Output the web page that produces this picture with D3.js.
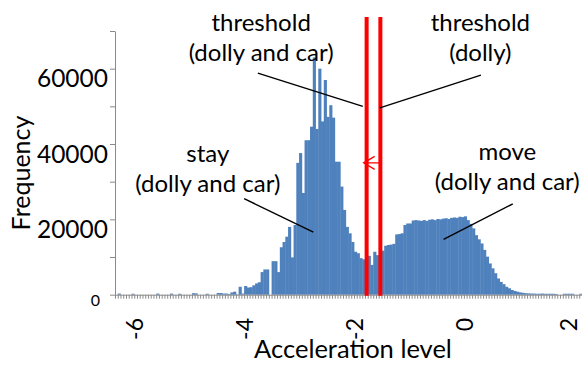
<!DOCTYPE html>
<html>
<head>
<meta charset="utf-8">
<script src="https://cdn.jsdelivr.net/npm/d3@7"></script>
<style>
  html, body { margin: 0; padding: 0; background: #fff; }
  svg { display: block; font-family: Lato, "Open Sans", sans-serif; }
</style>
</head>
<body>
<svg id="chart" width="582" height="365"></svg>
<script>
// Histogram of acceleration levels: bins start at binStart, each binWidth wide
const binStart = -6.35;
const binWidth = 0.05;
const frequencies = [
  0, 300, 0, 0, 0, 0, 250, 0, 0, 0,
  0, 0, 0, 0, 0, 300, 0, 0, 0, 0,
  300, 0, 0, 250, 0, 0, 0, 0, 400, 350,
  0, 0, 0, 250, 0, 0, 0, 450, 450, 300,
  300, 200, 600, 800, 100, 2100, 300, 2300, 1900, 2000,
  2500, 3000, 3300, 6000, 6700, 6700, 0, 8900, 8900, 6000,
  12600, 14000, 15400, 18000, 9900, 18500, 35000, 37600, 27000, 41000,
  41000, 44600, 63000, 44000, 60000, 46000, 57000, 47200, 50300, 47000,
  35300, 35300, 28700, 22500, 18000, 16300, 14000, 11400, 11000, 9700,
  9400, 9400, 10300, 7900, 11400, 10500, 9700, 11700, 13000, 13200,
  13300, 13500, 16000, 16100, 16300, 18500, 18900, 18900, 19700, 19800,
  19700, 19600, 19800, 19600, 19900, 20000, 19800, 20100, 20000, 20200,
  20300, 20100, 20400, 20500, 20400, 20700, 20600, 20800, 19800, 18800,
  17600, 15800, 14700, 13600, 11900, 10100, 8300, 7000, 5700, 4300,
  3400, 2800, 2100, 1700, 1250, 1000, 800, 600, 500, 400,
  350, 300, 300, 250, 250, 300, 250, 250, 250, 250,
  200, 0, 0, 250, 250, 250, 250, 0, 0, 250
];

const xTickValues = [-6, -4, -2, 0, 2];
const yTickValues = [0, 10000, 20000, 30000, 40000, 50000, 60000, 70000];
const yLabelValues = [0, 20000, 40000, 60000];

// Decision thresholds on the acceleration level
const thresholdValues = [-1.77, -1.52];

// Annotation texts, their anchor (acceleration, frequency) and leader line ends
const annotationLines = [
  ["threshold", "(dolly and car)"],
  ["threshold", "(dolly)"],
  ["stay", "(dolly and car)"],
  ["move", "(dolly and car)"]
];
const annotationAnchors = [[-3.69, 69900], [0.30, 69900], [-4.66, 35200], [0.79, 35700]];
const leaderStarts = [[-3.75, 58800], [0.31, 58300], [-4.00, 25500], [0.89, 24100]];
const leaderEnds = [[-1.84, 50000], [-1.53, 49600], [-2.74, 16600], [-0.37, 14700]];
const arrowLevel = 35000;

const svg = d3.select("#chart");
const plotLeft = 115, plotRight = 582, plotTop = 31, plotBottom = 294.7;
const axisColor = "#8a8a8a";

const binEdges = frequencies.map((_, i) => binStart + i * binWidth);
const x = d3.scaleLinear()
  .domain([binStart, binStart + frequencies.length * binWidth])
  .range([plotLeft, plotRight]);
const y = d3.scaleLinear().domain([0, 70000]).range([plotBottom, plotTop]);

// Bars
svg.append("g")
  .selectAll("rect")
  .data(frequencies)
  .join("rect")
  .attr("x", (d, i) => x(binEdges[i]))
  .attr("width", (d, i) => x(binEdges[i] + binWidth) - x(binEdges[i]) + 0.4)
  .attr("y", d => y(d))
  .attr("height", d => y(0) - y(d))
  .attr("fill", "#4f81bd");

// Y axis with outward ticks every 10000
const yAxis = svg.append("g")
  .attr("transform", `translate(${plotLeft},0)`)
  .call(d3.axisLeft(y).tickValues(yTickValues).tickSize(5).tickSizeOuter(0).tickFormat(""));
yAxis.selectAll("path, line").attr("stroke", axisColor);

// X axis with a small tick at every bin edge
const xAxis = svg.append("g")
  .attr("transform", `translate(0,${plotBottom})`)
  .call(d3.axisBottom(x).tickValues(binEdges.concat([binStart + frequencies.length * binWidth]))
    .tickSize(4).tickSizeOuter(0).tickFormat(""));
xAxis.selectAll("path, line").attr("stroke", axisColor);

// Y tick labels
svg.append("g")
  .selectAll("text")
  .data(yLabelValues)
  .join("text")
  .attr("x", d => d === 0 ? 100 : 108)
  .attr("y", d => y(d) + (d === 0 ? 5 : 9))
  .attr("text-anchor", "end")
  .attr("dominant-baseline", "central")
  .attr("font-size", d => d === 0 ? 16 : 24.5)
  .attr("fill", "#000")
  .text(d => d);

// X tick labels, rotated; the last one is kept inside the chart edge
svg.append("g")
  .selectAll("text")
  .data(xTickValues)
  .join("text")
  .attr("transform", d => `translate(${Math.min(x(d), plotRight - 14)},318) rotate(-90)`)
  .attr("text-anchor", "end")
  .attr("dominant-baseline", "central")
  .attr("font-size", 23)
  .attr("fill", "#000")
  .text(d => d);

// Axis titles
svg.append("text")
  .attr("transform", "translate(30,173) rotate(-90)")
  .attr("text-anchor", "middle")
  .attr("font-size", 25)
  .attr("fill", "#000")
  .text("Frequency");
svg.append("text")
  .attr("x", 353).attr("y", 358)
  .attr("text-anchor", "middle")
  .attr("font-size", 25.5)
  .attr("fill", "#000")
  .text("Acceleration level");

// Threshold lines
svg.append("g")
  .selectAll("line")
  .data(thresholdValues)
  .join("line")
  .attr("x1", d => x(d)).attr("x2", d => x(d))
  .attr("y1", 17).attr("y2", plotBottom + 1)
  .attr("stroke", "#ff0000")
  .attr("stroke-width", 4);

// Arrow from the dolly threshold to the dolly-and-car threshold
const ay = y(arrowLevel);
const tip = x(thresholdValues[0]) - 3;
svg.append("path")
  .attr("d", `M${x(thresholdValues[1])},${ay}H${tip}M${tip + 11},${ay - 6.5}L${tip},${ay}L${tip + 11},${ay + 6.5}`)
  .attr("fill", "none")
  .attr("stroke", "#ff0000")
  .attr("stroke-width", 1.3);

// Leader lines
svg.append("g")
  .selectAll("line")
  .data(leaderStarts)
  .join("line")
  .attr("x1", d => x(d[0])).attr("y1", d => y(d[1]))
  .attr("x2", (d, i) => x(leaderEnds[i][0])).attr("y2", (d, i) => y(leaderEnds[i][1]))
  .attr("stroke", "#000")
  .attr("stroke-width", 1.4);

// Annotation texts (two lines each)
const notes = svg.append("g")
  .selectAll("text")
  .data(annotationLines)
  .join("text")
  .attr("x", (d, i) => x(annotationAnchors[i][0]))
  .attr("y", (d, i) => y(annotationAnchors[i][1]))
  .attr("text-anchor", "middle")
  .attr("font-size", 24)
  .attr("fill", "#000");
notes.selectAll("tspan")
  .data(d => d)
  .join("tspan")
  .attr("x", function () { return this.parentNode.getAttribute("x"); })
  .attr("dy", (d, i) => i === 0 ? 0 : 30)
  .text(d => d);
</script>
</body>
</html>
